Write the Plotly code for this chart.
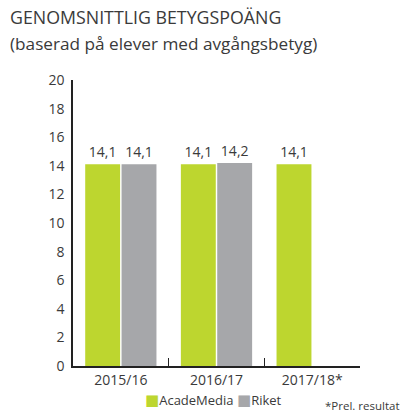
import plotly.graph_objects as go

categories = ["2015/16", "2016/17", "2017/18*"]
academedia = [14.1, 14.1, 14.1]
riket = [14.1, 14.2, None]
y_ticks = [0, 2, 4, 6, 8, 10, 12, 14, 16, 18, 20]

FONT = "Open Sans"
TXT = "#3a3a3a"
GREEN = "#bdd62f"
GREY = "#a6a7aa"

fig = go.Figure()
fig.add_trace(go.Bar(
    x=categories, y=academedia, name="AcadeMedia",
    marker=dict(color=GREEN, line=dict(width=0)),
    texttemplate="%{y:.1f}", textposition="outside",
    textfont=dict(size=14, color=TXT, family=FONT), cliponaxis=False,
))
fig.add_trace(go.Bar(
    x=categories, y=riket, name="Riket",
    marker=dict(color=GREY, line=dict(width=0)),
    texttemplate="%{y:.1f}", textposition="outside",
    textfont=dict(size=14, color=TXT, family=FONT), cliponaxis=False,
))

legend_text = (
    f"<span style='color:{GREEN};font-family:DejaVu Sans;font-size:15px'>■</span>AcadeMedia "
    f"<span style='color:{GREY};font-family:DejaVu Sans;font-size:15px'>■</span>Riket"
)

fig.update_layout(
    width=403, height=412,
    margin=dict(l=73, r=43, t=80, b=46),
    paper_bgcolor="white", plot_bgcolor="white",
    font=dict(family=FONT, color=TXT, size=14),
    separators=", ",
    barmode="group", bargap=0.24, bargroupgap=0.04,
    showlegend=False,
    xaxis=dict(showline=True, linecolor="#222", linewidth=1.5, ticks="inside",
               tickson="boundaries", ticklen=8, tickcolor="#222", tickwidth=1.2,
               showgrid=False, tickfont=dict(size=14, color=TXT, family=FONT)),
    yaxis=dict(range=[0, 20], tickvals=y_ticks, showline=True, linecolor="#222",
               linewidth=1.5, ticks="", showgrid=False, zeroline=False,
               tickfont=dict(size=14, color=TXT, family=FONT), ticklabelstandoff=4),
    annotations=[
        dict(text="GENOMSNITTLIG BETYGSPOÄNG", xref="paper", yref="paper",
             x=-0.226, y=1.22, xanchor="left", yanchor="middle", showarrow=False,
             font=dict(size=17.8, color=TXT, family=FONT)),
        dict(text="(baserad på elever med avgångsbetyg)", xref="paper", yref="paper",
             x=-0.226, y=1.126, xanchor="left", yanchor="middle", showarrow=False,
             font=dict(size=17.2, color=TXT, family=FONT)),
        dict(text=legend_text, xref="paper", yref="paper",
             x=0.49, y=-0.12, xanchor="center", yanchor="middle", showarrow=False,
             font=dict(size=13, color=TXT, family=FONT)),
        dict(text="*Prel. resultat", xref="paper", yref="paper",
             x=1.145, y=-0.137, xanchor="right", yanchor="middle", showarrow=False,
             font=dict(size=11.5, color=TXT, family=FONT)),
    ],
)

fig.write_html("out.html", config={"displayModeBar": False},
               post_script="document.body.style.margin='0';")
